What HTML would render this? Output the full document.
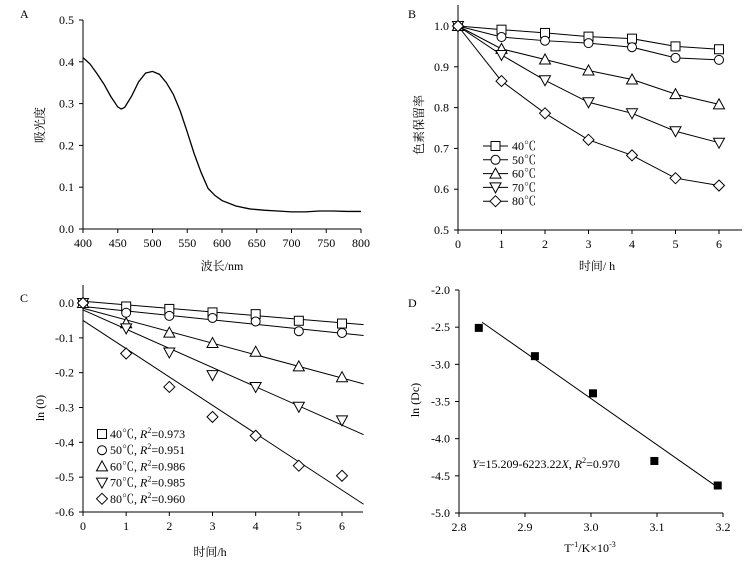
<!DOCTYPE html>
<html><head><meta charset="utf-8"><style>
body{margin:0;background:#fff}
svg{display:block;font-family:"Liberation Serif","Noto Serif CJK SC",serif;font-size:12px}
</style></head><body>
<svg id="s" width="752" height="565" viewBox="0 0 752 565"></svg>
<script>
// Panel A data
const aWave=[400,410,420,430,440,450,455,460,470,480,490,500,510,520,530,540,550,560,570,580,590,600,620,640,660,680,700,720,740,760,780,800];
const aAbs=[0.41,0.395,0.372,0.347,0.317,0.292,0.287,0.291,0.318,0.352,0.373,0.377,0.37,0.35,0.322,0.282,0.232,0.18,0.135,0.097,0.08,0.068,0.055,0.048,0.045,0.043,0.041,0.041,0.043,0.043,0.042,0.042];
const aXTicks=[400,450,500,550,600,650,700,750,800];
const aYTicks=[0,0.1,0.2,0.3,0.4,0.5];
// Panel B data
const bTime=[0,1,2,3,4,5,6];
const bSeriesNames=["40℃","50℃","60℃","70℃","80℃"];
const bMarkers=["square","circle","triangle","tridown","diamond"];
const b40=[1,0.991,0.983,0.974,0.969,0.950,0.943];
const b50=[1,0.973,0.964,0.958,0.948,0.922,0.917];
const b60=[1,0.944,0.918,0.891,0.869,0.833,0.808];
const b70=[1,0.929,0.867,0.813,0.786,0.742,0.714];
const b80=[1,0.865,0.786,0.721,0.683,0.627,0.609];
const bYTicks=[0.5,0.6,0.7,0.8,0.9,1.0];
// Panel C data
const c40=[0,-0.010,-0.017,-0.027,-0.032,-0.051,-0.059];
const c50=[0,-0.028,-0.037,-0.043,-0.053,-0.081,-0.086];
const c60=[0,-0.058,-0.085,-0.115,-0.140,-0.182,-0.213];
const c70=[0,-0.073,-0.142,-0.207,-0.241,-0.298,-0.337];
const c80=[0,-0.145,-0.241,-0.327,-0.381,-0.467,-0.496];
const cIntercepts=[0.005,-0.01,-0.015,-0.02,-0.05];
const cSlopes=[-0.0103,-0.0128,-0.0334,-0.0551,-0.0812];
const cR2=["0.973","0.951","0.986","0.985","0.960"];
const cYTicks=[0,-0.1,-0.2,-0.3,-0.4,-0.5,-0.6];
// Panel D data
const dX=[2.83,2.915,3.003,3.096,3.192];
const dY=[-2.51,-2.89,-3.39,-4.30,-4.63];
const dFitX=[2.835,3.19];
const dIntercept=15.209, dSlope=-6.22322;
const dXTicks=[2.8,2.9,3.0,3.1,3.2];
const dYTicks=[-2.0,-2.5,-3.0,-3.5,-4.0,-4.5,-5.0];

const S=document.getElementById('s');const NS="http://www.w3.org/2000/svg";
function mk(t,a,txt){const e=document.createElementNS(NS,t);for(const k in a)e.setAttribute(k,a[k]);if(txt!==undefined)e.textContent=txt;S.appendChild(e);return e;}
function lin(d0,d1,r0,r1){return v=>r0+(v-d0)/(d1-d0)*(r1-r0);}
function marker(kind,x,y,fill){const r=4.5;let e;
 if(kind=="square")e=mk('rect',{x:x-r,y:y-r,width:2*r,height:2*r,fill:fill||'#fff',stroke:'#000'});
 else if(kind=="circle")e=mk('circle',{cx:x,cy:y,r:r,fill:'#fff',stroke:'#000'});
 else if(kind=="triangle")e=mk('polygon',{points:`${x},${y-r-1} ${x-r-1},${y+r} ${x+r+1},${y+r}`,fill:'#fff',stroke:'#000'});
 else if(kind=="tridown")e=mk('polygon',{points:`${x},${y+r+1} ${x-r-1},${y-r} ${x+r+1},${y-r}`,fill:'#fff',stroke:'#000'});
 else e=mk('polygon',{points:`${x},${y-r-1} ${x+r+1},${y} ${x},${y+r+1} ${x-r-1},${y}`,fill:'#fff',stroke:'#000'});
 return e;}
function axes(x0,x1,yTop,yBot,xs,xTicks,xFmt,ys,yTicks,yFmt,p){
 let e=mk('line',{x1:x0,y1:yTop,x2:x0,y2:yBot,stroke:'#000'});
 e=mk('line',{x1:x0,y1:yBot,x2:x1,y2:yBot,stroke:'#000'});
 xTicks.forEach(v=>{const X=xs(v);mk('line',{x1:X,y1:yBot,x2:X,y2:yBot+4,stroke:'#000'});
  e=mk('text',{x:X,y:yBot+18,'text-anchor':'middle'},xFmt(v));});
 yTicks.forEach(v=>{const Y=ys(v);mk('line',{x1:x0-4,y1:Y,x2:x0,y2:Y,stroke:'#000'});
  e=mk('text',{x:x0-9,y:Y+4,'text-anchor':'end'},yFmt(v));});
}
function label(t,x,y,name,extra){const e=mk('text',Object.assign({x:x,y:y},extra||{}),t);return e;}
function ylabel(t,x,y,name){const e=mk('text',{x:x,y:y,'text-anchor':'middle',transform:`rotate(-90 ${x} ${y})`},t);}
const f1=v=>v.toFixed(1);

// Panel A
{const xs=lin(400,800,83,361),ys=lin(0,0.5,229,20);
 axes(83,361,20,229,xs,aXTicks,v=>v,ys,aYTicks,f1,'a');
 const p=mk('path',{d:aWave.map((w,i)=>(i?'L':'M')+xs(w)+','+ys(aAbs[i])).join(''),fill:'none',stroke:'#000','stroke-width':1.3});
 
 label('A',20,18,'panel-a-label');label('波长/nm',222,270,'a-x-axis-title',{'text-anchor':'middle'});ylabel('吸光度',44,125,'a-y-axis-title');}

// Panel B
{const xs=lin(0,6,458,719),ys=lin(0.5,1.0,230,26);
 axes(458,742,5,230,xs,bTime,v=>v,ys,bYTicks,f1,'b');
 const ser=[b40,b50,b60,b70,b80];
 ser.forEach((s,k)=>{const p=mk('path',{d:s.map((v,i)=>(i?'L':'M')+xs(bTime[i])+','+ys(v)).join(''),fill:'none',stroke:'#000'});
  
  s.forEach((v,i)=>{const m=marker(bMarkers[k],xs(bTime[i]),ys(v));});});
 bSeriesNames.forEach((n,k)=>{const y=146+k*13.8;mk('line',{x1:483,y1:y,x2:508,y2:y,stroke:'#000'});marker(bMarkers[k],495.5,y);
  label(n,512,y+4,'b-legend-entry');});
 label('B',408,18,'panel-b-label');label('时间/ h',597,270,'b-x-axis-title',{'text-anchor':'middle'});ylabel('色素保留率',423,125,'b-y-axis-title');}

// Panel C
{const xs=lin(0,6,83,342),ys=lin(0,-0.6,303,512);
 axes(83,363,285,512,xs,bTime,v=>v,ys,cYTicks,f1,'c');
 const ser=[c40,c50,c60,c70,c80];
 ser.forEach((s,k)=>{const l=mk('line',{x1:xs(0),y1:ys(cIntercepts[k]),x2:xs(6.5),y2:ys(cIntercepts[k]+cSlopes[k]*6.5),stroke:'#000'});
  
  s.forEach((v,i)=>{const m=marker(bMarkers[k],xs(bTime[i]),ys(v));});});
 bSeriesNames.forEach((n,k)=>{const y=434+k*16.2;marker(bMarkers[k],102,y);
  const t=label('',110,y+4,'c-legend-entry');t.innerHTML=`${n}, <tspan font-style="italic">R</tspan><tspan dy="-5" font-size="8">2</tspan><tspan dy="5">=${cR2[k]}</tspan>`;});
 label('C',20,302,'panel-c-label');label('时间/h',210,556,'c-x-axis-title',{'text-anchor':'middle'});ylabel('ln (0)',44,408,'c-y-axis-title');}

// Panel D
{const xs=lin(2.8,3.2,459,723),ys=lin(-2.0,-5.0,290,513);
 axes(459,723,290,513,xs,dXTicks,f1,ys,dYTicks,f1,'d');
 const l=mk('line',{x1:xs(dFitX[0]),y1:ys(dIntercept+dSlope*dFitX[0]),x2:xs(dFitX[1]),y2:ys(dIntercept+dSlope*dFitX[1]),stroke:'#000'});
 
 dX.forEach((x,i)=>{const m=marker('square',xs(x),ys(dY[i]),'#000');m.setAttribute('width',7);m.setAttribute('height',7);m.setAttribute('x',xs(x)-3.5);m.setAttribute('y',ys(dY[i])-3.5);});
 const t=label('',472,468,'d-equation');t.innerHTML='<tspan font-style="italic">Y</tspan>=15.209-6223.22<tspan font-style="italic">X</tspan>, <tspan font-style="italic">R</tspan><tspan dy="-5" font-size="8">2</tspan><tspan dy="5">=0.970</tspan>';
 label('D',408,307,'panel-d-label');
 const xt=label('',590,552,'d-x-axis-title',{'text-anchor':'middle'});xt.innerHTML='T<tspan dy="-5" font-size="8">-1</tspan><tspan dy="5">/K×10</tspan><tspan dy="-5" font-size="8">-3</tspan>';
 ylabel('ln (Dc)',419,400,'d-y-axis-title');}
</script>
</body></html>
